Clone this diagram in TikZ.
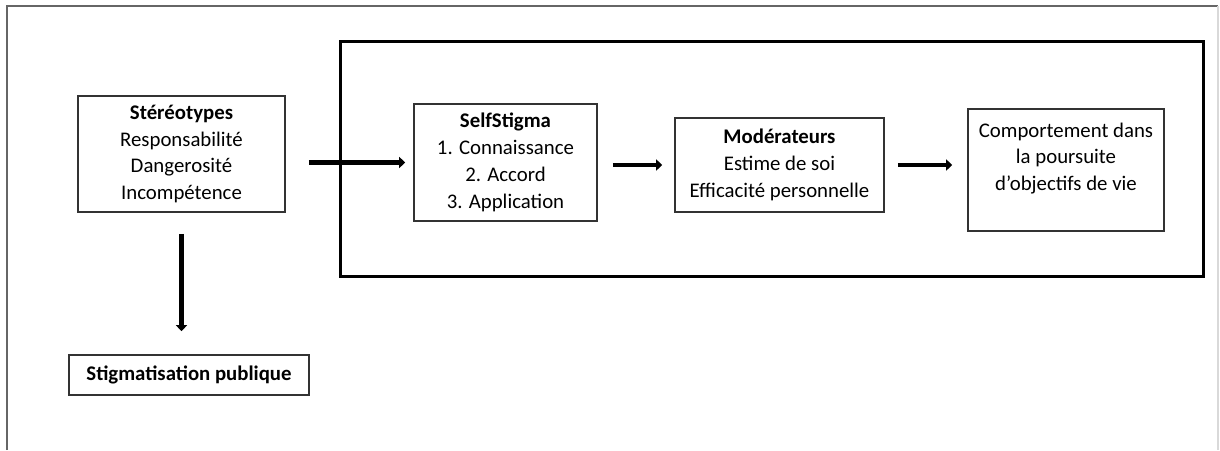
\documentclass[tikz,border=0pt]{standalone}
\usepackage{fontspec}
\setmainfont{Carlito}
\usetikzlibrary{arrows.meta}

\begin{document}
\begin{tikzpicture}[x=0.5pt,y=-0.5pt]
            \useasboundingbox (0,0) rectangle (1220,450);
            % page edge
            \draw[black!60, line width=0.6pt] (7,450) -- (7,6) -- (1218,6);
            \draw[black!15, line width=0.6pt] (1218,6) -- (1218,450);
            % self stigma frame
            \draw[line width=1.5pt] (340,41) rectangle (1203,276);
            \begin{scope}[every node/.style={draw=black!80, line width=0.8pt, align=center, inner sep=0pt, font=\fontsize{10.4}{13.4}\selectfont}]
                \node[minimum width=103.5pt, minimum height=58pt] (stereo) at (181.5,154) {\textbf{Stéréotypes}\\Responsabilité\\Dangerosité\\Incompétence};
                \node[minimum width=91.5pt, minimum height=58.5pt] (self) at (505.5,162.5) {\textbf{SelfStigma}\\1. Connaissance\\2. Accord\\3. Application};
                \node[minimum width=104.5pt, minimum height=47pt] (mod) at (779.5,165) {\textbf{Modérateurs}\\Estime de soi\\Efficacité personnelle};
                \node[minimum width=98pt, minimum height=61pt] (comp) at (1066,170) {Comportement dans\\la poursuite\\d’objectifs de vie\\\mbox{}};
                \node[minimum width=120pt, minimum height=20pt] (pub) at (189,375) {\textbf{Stigmatisation publique}};
            \end{scope}
            \begin{scope}[every path/.style={-{Triangle[length=3pt,width=5.5pt]}, line width=2.2pt}]
                \path (stereo.east |- self.west) edge[shorten <=11.5pt, shorten >=4pt] (self.west);
                \path (self.east |- mod.west) edge[shorten <=7.5pt, shorten >=6pt] (mod.west);
                \path (mod.east) edge[shorten <=6.5pt, shorten >=7.5pt] (mod.east -| comp.west);
                \path (stereo.south) edge[shorten <=10.5pt, shorten >=11.5pt] (stereo.south |- pub.north);
            \end{scope}
        \end{tikzpicture}
\end{document}
